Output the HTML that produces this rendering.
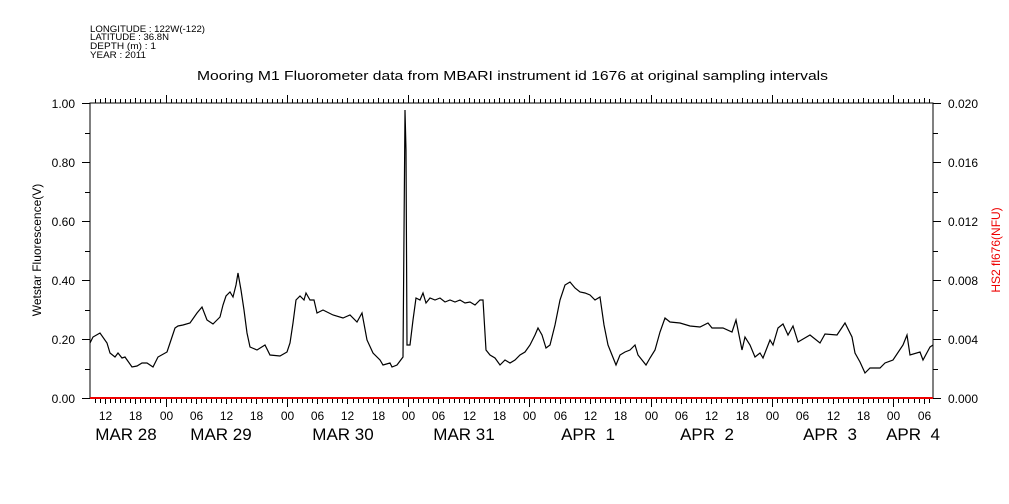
<!DOCTYPE html>
<html><head><meta charset="utf-8"><style>
html,body{margin:0;padding:0;background:#fff;}
svg{display:block;font-family:"Liberation Sans",sans-serif;}
</style></head><body>
<svg id="s" width="1009" height="504" viewBox="0 0 1009 504" xmlns="http://www.w3.org/2000/svg">
<g font-size="9.5" fill="#000">
<text x="90" y="32" textLength="115" lengthAdjust="spacingAndGlyphs">LONGITUDE : 122W(-122)</text>
<text x="90" y="40" textLength="79" lengthAdjust="spacingAndGlyphs">LATITUDE : 36.8N</text>
<text x="90" y="49" textLength="66" lengthAdjust="spacingAndGlyphs">DEPTH (m) : 1</text>
<text x="90" y="58" textLength="56" lengthAdjust="spacingAndGlyphs">YEAR : 2011</text>
</g>
<text x="197" y="80" font-size="13" textLength="631" lengthAdjust="spacingAndGlyphs">Mooring M1 Fluorometer data from MBARI instrument id 1676 at original sampling intervals</text>
<rect x="90" y="103" width="843" height="295" fill="none" stroke="#000" stroke-width="1"/>
<g id="ticks" stroke="#000" stroke-width="1"></g>
<line x1="90" y1="398" x2="933" y2="398" stroke="#e00" stroke-width="2"/>
<g id="labs" font-size="12" text-anchor="middle"></g>
<g font-size="12" text-anchor="end">
<text x="75" y="108">1.00</text><text x="75" y="167">0.80</text><text x="75" y="226">0.60</text>
<text x="75" y="285">0.40</text><text x="75" y="344">0.20</text><text x="75" y="403">0.00</text>
</g>
<g font-size="12">
<text x="948" y="108">0.020</text><text x="948" y="167">0.016</text><text x="948" y="226">0.012</text>
<text x="948" y="285">0.008</text><text x="948" y="344">0.004</text><text x="948" y="403">0.000</text>
</g>
<text transform="translate(41,250) rotate(-90)" font-size="12" text-anchor="middle">Wetstar Fluorescence(V)</text>
<text transform="translate(1000,250) rotate(-90)" font-size="12" text-anchor="middle" fill="#e00">HS2 fl676(NFU)</text>
<g font-size="17" text-anchor="middle">
<text x="126" y="440">MAR 28</text><text x="221" y="440">MAR 29</text><text x="343" y="440">MAR 30</text>
<text x="464" y="440">MAR 31</text><text x="588" y="440">APR &#160;1</text><text x="707" y="440">APR &#160;2</text>
<text x="830" y="440">APR &#160;3</text><text x="913" y="440">APR &#160;4</text>
</g>
<polyline fill="none" stroke="#000" stroke-width="1.2" points="
90,343 93,337 100,333 107,343 110,353 115,357 118,353 122,358 125,357 132,367 137,366 142,363 147,363 153,367 158,357 167,352 170,343 175,328 178,326 183,325 190,323 197,313 202,307 207,320 213,324 220,317 223,305 226,296 230,292 233,297 236,285 238,273 241,290 244,310 247,333 250,347 257,350 265,345 270,355 280,356 287,352 290,343 293,323 296,300 300,296 304,300 306,293 310,300 314,300 317,313 323,310 333,315 343,318 350,315 357,322 362,313 367,340 373,353 380,360 383,365 390,363 392,367 397,365 403,357 405,110 406,150 407,345 410,345 413,320 416,298 420,300 423,293 426,303 430,298 435,300 440,298 445,302 450,300 455,302 460,300 465,303 470,302 475,305 480,300 483,300 486,350 490,355 495,358 500,365 505,360 510,363 515,360 520,355 525,352 530,345 535,335 538,328 542,335 546,348 550,345 555,325 560,300 565,285 570,282 575,288 580,292 585,293 590,295 595,300 600,297 604,325 608,345 612,355 616,365 620,355 625,352 630,350 635,345 638,355 642,360 646,365 650,358 655,350 660,332 665,318 670,322 680,323 690,326 700,327 708,323 712,328 723,328 732,332 736,320 742,350 745,337 750,345 755,357 760,353 763,358 770,340 773,345 778,328 783,324 788,335 793,326 798,342 810,335 820,343 825,334 837,335 845,323 852,337 855,353 860,362 865,373 870,368 880,368 885,363 893,360 903,345 907,335 910,355 920,352 923,360 930,347 933,345"/>
</svg>
<script>
var NS="http://www.w3.org/2000/svg",t=document.getElementById("ticks"),L=document.getElementById("labs");
function ln(a,b,c,d){var e=document.createElementNS(NS,"line");e.setAttribute("x1",a);e.setAttribute("y1",b);e.setAttribute("x2",c);e.setAttribute("y2",d);t.appendChild(e);}
var x0=165.5,pd=121.3/24;
for(var h=-15;h<=176;h++){var x=x0+h*pd;if(x<90||x>933.5)continue;x=Math.round(x)+0.5;
 var hr=((h%24)+24)%24,big=hr==0,mid=hr%6==0;
 ln(x,398,x,big?407:(mid?404:403));ln(x,103,x,big?95:(mid?98:99));
 if(mid){var s=document.createElementNS(NS,"text");s.setAttribute("x",x);s.setAttribute("y",420);s.textContent=(hr<10?"0":"")+hr;L.appendChild(s);}
}
for(var i=0;i<=10;i++){var y=103+i*29.5;y=Math.round(y)+0.5;var l=i%2==0?8:5;ln(90-l,y,90,y);ln(933,y,933+l,y);}
</script>
</body></html>
